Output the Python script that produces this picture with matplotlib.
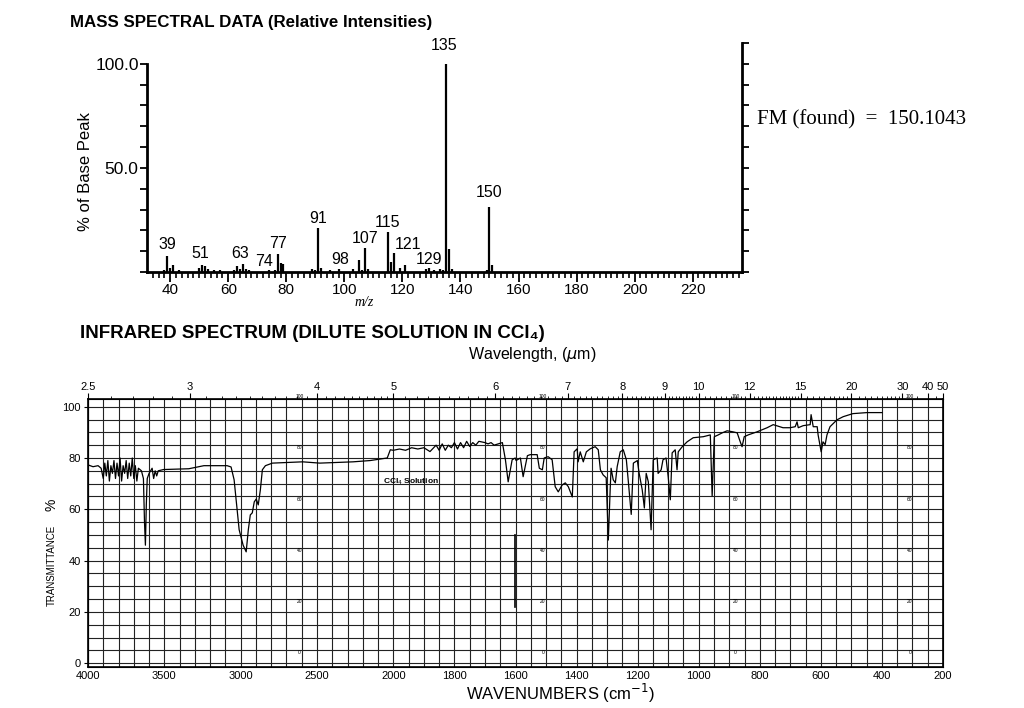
import numpy as np
import matplotlib
matplotlib.use('Agg')
import matplotlib.pyplot as plt
from matplotlib.ticker import FixedLocator, FixedFormatter, NullFormatter

plt.rcParams['font.family'] = ['Liberation Sans', 'DejaVu Sans']

# ---- mass spectrum data ----
ms_mz = [38, 39, 40, 41, 43, 50, 51, 52, 53, 55, 57, 62, 63, 64, 65, 66, 67,
         74, 76, 77, 78, 79, 89, 90, 91, 92, 95, 98, 103, 105, 106, 107, 108,
         115, 116, 117, 119, 121, 128, 129, 131, 133, 134, 135, 136, 137,
         149, 150, 151]
ms_int = [1, 7.5, 2, 3.5, 1, 2, 3.5, 3, 1.5, 1, 1, 1, 3, 1.5, 4, 1.5, 1,
          1, 1, 8.5, 4.5, 4, 1.5, 1, 21, 2, 1, 1.5, 1.5, 6, 1, 11.5, 1.5,
          19, 5, 9, 2, 3.5, 1.5, 2, 1, 1.5, 1, 100, 11, 1.5,
          1, 31, 3.5]
ms_labels = ['39', '51', '63', '74', '77', '91', '98', '107', '115', '121', '129', '135', '150']
ms_label_x = [39, 50.5, 64, 72.5, 77, 91, 98.5, 107, 115, 122, 129, 134.5, 150]
ms_label_y = [13, 9, 9, 5, 13.5, 25.5, 6, 16, 24, 13, 6, 109, 38]

# ---- IR spectrum data (wavenumber, %T) ----
ir_wn = [4000, 3967, 3934, 3914, 3900, 3890, 3880, 3870, 3860, 3850, 3840, 3830,
         3820, 3810, 3800, 3790, 3780, 3770, 3760, 3750, 3740, 3730, 3720, 3710,
         3700, 3690, 3680, 3670, 3650, 3637, 3630, 3624, 3618, 3612, 3600, 3580,
         3570, 3560, 3550, 3540, 3505, 3340, 3241, 3089, 3063, 3043, 3010, 2984,
         2964, 2950, 2937, 2924, 2911, 2898, 2885, 2871, 2858, 2838, 2792, 2594,
         2482, 2264, 2152, 2040, 2020, 2000, 1980, 1960, 1940, 1920, 1900, 1880,
         1860, 1850, 1840, 1830, 1820, 1810, 1800, 1790, 1780, 1770, 1760, 1750,
         1740, 1730, 1720, 1700, 1690, 1680, 1670, 1643, 1633, 1624, 1611, 1601,
         1598, 1584, 1575, 1561, 1552, 1529, 1522, 1512, 1506, 1493, 1480, 1470,
         1460, 1447, 1437, 1427, 1414, 1408, 1398, 1395, 1388, 1378, 1368, 1355,
         1339, 1329, 1322, 1313, 1303, 1296, 1290, 1287, 1280, 1273, 1267, 1257,
         1247, 1237, 1231, 1221, 1214, 1201, 1195, 1185, 1178, 1172, 1165, 1156,
         1149, 1136, 1133, 1123, 1117, 1107, 1100, 1093, 1087, 1077, 1071, 1067,
         1054, 1038, 1018, 985, 962, 956, 949, 936, 923, 907, 888, 874, 864, 858,
         851, 838, 809, 776, 756, 724, 701, 684, 678, 674, 658, 635, 632, 625,
         612, 609, 599, 593, 586, 580, 570, 547, 527, 495, 449, 400]
ir_t = [77.3, 76.6, 77.0, 76, 72, 78, 73, 79, 71, 77, 74, 79,
        72, 78, 73, 80, 71, 77, 74, 79, 72, 78, 73, 80,
        72, 77, 71, 76, 75, 72, 55, 46, 62, 72, 74, 76,
        72, 75, 73, 75, 75.5, 75.8, 77, 77, 76.5, 71.5, 52, 46,
        43.4, 52, 57.8, 58.6, 62.9, 64, 61.7, 67.6, 75.4, 77, 78, 78.5,
        78, 78.5, 79, 80, 83.2, 83, 83.5, 83, 84, 83.5, 84, 82.5,
        85, 83, 85.5, 83, 85, 84, 86, 83.5, 86, 84, 86.5, 84.5,
        86, 85, 86.5, 86, 85.5, 86, 85, 86, 79.3, 70.7, 79.3, 80,
        79, 80, 72.7, 80.9, 81.3, 81.3, 76, 75.4, 80, 80.5, 79.3, 68.8,
        66.8, 69.5, 70.3, 68.8, 64.8, 82.4, 83.6, 78.5, 82.4, 78.5, 82.4, 83.6,
        84.4, 83.2, 75.4, 73.4, 72.3, 48, 67.6, 76, 71.5, 70.3, 76.6, 82.4,
        83.2, 79.3, 71.5, 58, 78, 79, 74, 67.6, 60.5, 74, 70.7, 52,
        79.3, 80, 74, 75.4, 79.3, 80, 72.7, 63.7, 82, 83.2, 75.4, 82.4,
        84.4, 86.3, 87.9, 88.3, 89, 65.2, 88.3, 89, 89.8, 90.6, 90.2, 89.8, 86.3, 84.4,
        88.3, 89, 90.2, 91.8, 93, 91.8, 91.8, 92.2, 94.1, 91.8, 92.6, 93, 96.9, 92.2,
        92.2, 89, 82.4, 86.3, 85.2, 89, 92.2, 94.9, 96.1, 97.3, 97.7, 97.7]
cal_wn = [1601, 1601]
cal_t = [50, 22]

wn_ticks = [4000, 3500, 3000, 2500, 2000, 1800, 1600, 1400, 1200, 1000, 800, 600, 400, 200]
um_ticks = [2.5, 3, 4, 5, 6, 7, 8, 9, 10, 12, 15, 20, 30, 40, 50]
um_labels = ['2.5', '3', '4', '5', '6', '7', '8', '9', '10', '12', '15', '20', '30', '40', '50']
t_ticks = [0, 20, 40, 60, 80, 100]
paper_cols = [2614, 1510, 880, 309]
paper_nums = [100, 80, 60, 40, 20, 0]

W, H = 1024, 708
fig = plt.figure(figsize=(W / 100, H / 100), dpi=100)

# ================= mass spectrum =================
ax1 = fig.add_axes([147 / W, 1 - 272 / H, 595 / W, (272 - 43) / H])
ax1.vlines(ms_mz, 0, ms_int, color='k', lw=1.6)
ax1.set_xlim(32, 237)
ax1.set_ylim(0, 110)
ax1.spines['top'].set_visible(False)
ax1.spines['right'].set_visible(False)
ax1.spines['left'].set_bounds(0, 100)
for s in ['left', 'bottom']:
    ax1.spines[s].set_linewidth(2)
ax1.yaxis.set_major_locator(FixedLocator(list(range(0, 101, 10))))
ax1.yaxis.set_major_formatter(FixedFormatter(['' if v not in (50, 100) else '%.1f' % v
                                              for v in range(0, 101, 10)]))
ax1.xaxis.set_major_locator(FixedLocator(list(range(40, 221, 20))))
ax1.xaxis.set_minor_locator(FixedLocator(list(range(34, 237, 2))))
ax1.tick_params(axis='both', direction='out', width=1.3)
ax1.tick_params(axis='x', which='major', length=7, pad=1, labelsize=11)
ax1.tick_params(axis='x', which='minor', length=4, width=1.2)
ax1.tick_params(axis='y', length=5, pad=1, labelsize=12.5)
for lab, lx, ly in zip(ms_labels, ms_label_x, ms_label_y):
    ax1.text(lx, ly, lab, ha='center', va='center', fontsize=11.5)

axr = ax1.twinx()
axr.set_ylim(0, 110)
axr.spines['right'].set_linewidth(2)
for s in ['left', 'top', 'bottom']:
    axr.spines[s].set_visible(False)
axr.yaxis.set_major_locator(FixedLocator(list(range(0, 111, 10))))
axr.yaxis.set_major_formatter(NullFormatter())
axr.tick_params(axis='y', direction='out', length=5, width=1.3)

fig.text(70 / W, 1 - 22 / H, 'MASS SPECTRAL DATA (Relative Intensities)',
         fontsize=12.2, fontweight='bold', va='center')
fig.text(86 / W, 1 - 172 / H, '% of Base Peak', rotation=90, fontsize=12,
         ha='center', va='center')
fig.text(364 / W, 1 - 303 / H, 'm/z', fontsize=10, style='italic',
         family='Liberation Serif', ha='center', va='center')
fig.text(757 / W, 1 - 120 / H, 'FM (found)  =  150.1043', fontsize=15,
         family='Liberation Serif', va='center')

# ================= IR spectrum =================
def fwd(w):
    w = np.asarray(w, dtype=float)
    return np.where(w > 2000, 2000 + (w - 2000) / 2.0, w)

def inv(u):
    u = np.asarray(u, dtype=float)
    return np.where(u > 2000, 2000 + (u - 2000) * 2.0, u)

ax2 = fig.add_axes([88 / W, 1 - 667 / H, (943 - 88) / W, (667 - 399) / H])
ax2.set_xscale('function', functions=(fwd, inv))
ax2.set_xlim(4000, 200)
ax2.set_ylim(-1.5, 103)

grid_wn = list(range(4000, 2000, -100)) + list(range(2000, 199, -50))
ax2.vlines(grid_wn, -1.5, 103, color='#222222', lw=0.8, zorder=1)
ax2.hlines(list(range(0, 101, 5)), 4000, 200, color='#222222', lw=0.8, zorder=1)
ax2.plot(ir_wn, ir_t, color='k', lw=0.9, zorder=3)
ax2.plot(cal_wn, cal_t, color='k', lw=1.2, zorder=3)
for s in ax2.spines.values():
    s.set_linewidth(1.2)

ax2.xaxis.set_major_locator(FixedLocator(wn_ticks))
ax2.xaxis.set_major_formatter(FixedFormatter([str(v) for v in wn_ticks]))
ax2.xaxis.set_minor_locator(FixedLocator([]))
ax2.tick_params(axis='x', length=0, pad=3, labelsize=8)
ax2.yaxis.set_major_locator(FixedLocator(t_ticks))
ax2.yaxis.set_major_formatter(FixedFormatter([str(v) for v in t_ticks]))
ax2.tick_params(axis='y', length=3, pad=2, labelsize=8)

for c in paper_cols:
    for n in paper_nums:
        ax2.text(c, n + 4, str(n), fontsize=3.5, ha='center', va='center',
                 zorder=2, clip_on=False)
ax2.text(2070, 70, r'CCl$_4$ Solution', fontsize=6, fontweight='bold', zorder=4)

ax3 = ax2.twiny()
ax3.set_xscale('function', functions=(fwd, inv))
ax3.set_xlim(4000, 200)
um_minor = (list(np.arange(2.5, 10, 0.1)) + list(np.arange(10, 15, 0.2)) +
            list(np.arange(15, 20, 0.5)) + list(np.arange(20, 30, 1.0)) + [35, 45])
ax3.xaxis.set_major_locator(FixedLocator([10000 / l for l in um_ticks]))
ax3.xaxis.set_major_formatter(FixedFormatter(um_labels))
ax3.xaxis.set_minor_locator(FixedLocator([10000 / l for l in um_minor]))
ax3.tick_params(axis='x', which='major', direction='out', length=4, width=0.8,
                pad=1, labelsize=8)
ax3.tick_params(axis='x', which='minor', direction='out', length=2, width=0.6)

fig.text(80 / W, 1 - 334 / H, 'INFRARED SPECTRUM (DILUTE SOLUTION IN CCl\u2084)',
         fontsize=13.5, fontweight='bold', va='center')
fig.text(532 / W, 1 - 355 / H, r'Wavelength, ($\mu$m)', fontsize=11.5,
         ha='center', va='center')
fig.text(560 / W, 1 - 693 / H, r'WAVENUMBERS (cm$^{-1}$)', fontsize=12,
         ha='center', va='center')
fig.text(52 / W, 1 - 565 / H, 'TRANSMITTANCE', rotation=90, fontsize=7,
         ha='center', va='center')
fig.text(52 / W, 1 - 505 / H, '%', rotation=90, fontsize=10,
         ha='center', va='center')

fig.savefig('out.png', dpi=100)
